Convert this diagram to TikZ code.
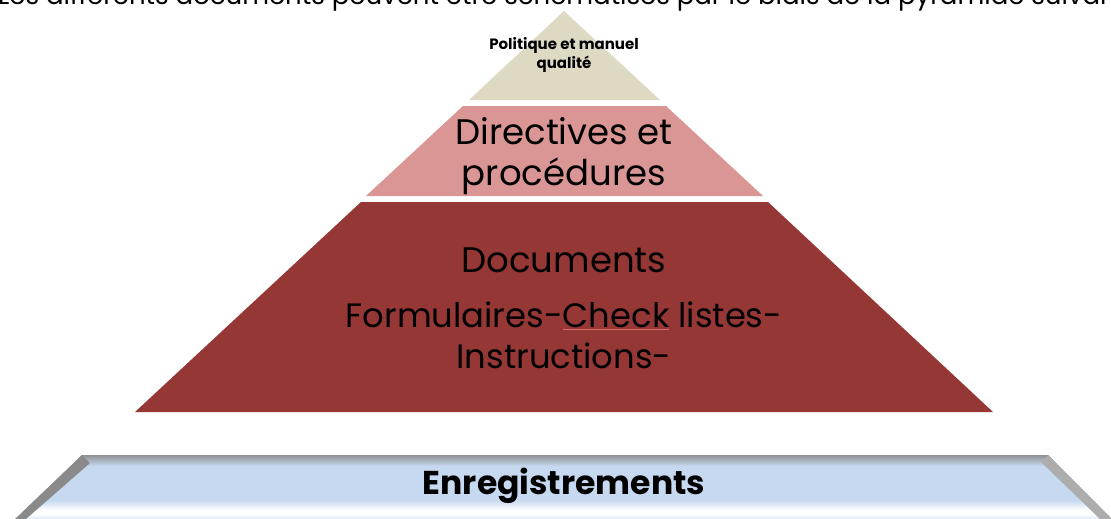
\documentclass[tikz,border=0pt]{standalone}
\usepackage{fontspec}
\setmainfont{Poppins}
\definecolor{spellRed}{HTML}{E06666}
% word with a thin red spelling mark beneath it
\newcommand\misspelt[1]{\setbox0\hbox{#1}\rlap{\textcolor{spellRed}{\rule[-2.5pt]{\wd0}{0.9pt}}}\box0\relax}
\begin{document}
\begin{tikzpicture}[x=1pt,y=-1pt,
  lbl/.style={inner sep=0pt, anchor=base, font=\fontsize{35.5}{40}\selectfont},
  lblnarrow/.style={lbl, font=\fontsize{33.8}{40}\selectfont},
  smalllbl/.style={inner sep=0pt, anchor=base, font=\bfseries\fontsize{15}{17}\selectfont}]
\definecolor{tierTop}{HTML}{DDD9C3}
\definecolor{tierMid}{HTML}{D99694}
\definecolor{tierLow}{HTML}{953735}
\definecolor{bannerBlue}{HTML}{C6D9F1}
\definecolor{bevelGray}{HTML}{8A8A8A}
\useasboundingbox (0,0) rectangle (1111,519);
\clip (0,0) rectangle (1111,519);

% introductory sentence above the pyramid
\node[inner sep=0pt, anchor=base west, font=\fontsize{26}{30}\selectfont]
  (intro) at (-2,5) {Les différents documents peuvent être schématisés par le biais de la pyramide suivante};

% pyramid tiers (apex at x=564; half width grows 1.07 per unit of height)
\fill[tierTop] (564,11) -- (660,100) -- (469,100) -- cycle;
\fill[tierMid] (463,106) -- (666,106) -- (763,196) -- (366,196) -- cycle;
\fill[tierLow] (361,202) -- (768,202) -- (993,412) -- (135,412) -- cycle;

% labels of the tiers
\node[smalllbl] (pol1) at (564,50) {Politique et manuel};
\node[smalllbl] (pol2) at (564,68) {qualité};
\node[lbl] (dir1) at (564,144) {Directives et};
\node[lbl] (dir2) at (564,185) {procédures};
\node[lbl] (doc1) at (564,272) {Documents};
\node[lblnarrow] (doc2) at (564,327) {Formulaires-\misspelt{Check} listes-};
\node[lblnarrow] (doc3) at (564,368) {Instructions-};

% bevelled banner at the foot
\begin{scope}
  \clip (82,455) -- (1048,455) -- (1114,521) -- (13,521) -- cycle;
  \fill[bannerBlue] (0,450) rectangle (1111,519);
  \shade[top color=bevelGray, bottom color=bannerBlue] (0,454) rectangle (1111,466);
  \shade[top color=bannerBlue, bottom color=white] (0,500) rectangle (1111,510);
  \fill[white] (0,510) rectangle (1111,514);
  \shade[top color=white, bottom color=bannerBlue!60!white] (0,514) rectangle (1111,519);
  \fill[bevelGray] (82,455) -- (90,463) -- (26,519) -- (12,519) -- cycle;
  \fill[bevelGray!70!white] (1048,455) -- (1041,462) -- (1100,519) -- (1114,519) -- cycle;
\end{scope}
\node[inner sep=0pt, anchor=base, font=\bfseries\fontsize{33}{36}\selectfont]
  (rec) at (564,494) {Enregistrements};
\end{tikzpicture}
\end{document}
